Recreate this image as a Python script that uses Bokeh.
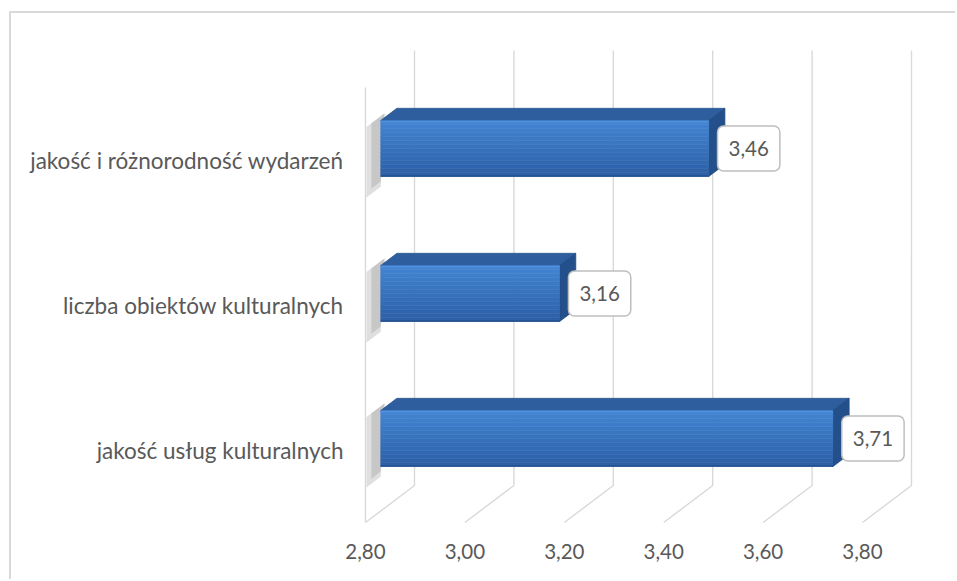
from bokeh.plotting import figure
from bokeh.models import Range1d, FixedTicker, ColumnDataSource
from bokeh.embed import file_html
from bokeh.resources import INLINE
from bokeh.core.properties import value

# ---------------- data ----------------
categories = ["jakość usług kulturalnych",
              "liczba obiektów kulturalnych",
              "jakość i różnorodność wydarzeń"]          # bottom -> top
values = [3.71, 3.16, 3.46]
value_labels = ["3,71", "3,16", "3,46"]
x_ticks = [2.8, 3.0, 3.2, 3.4, 3.6, 3.8]
x_tick_labels = ["2,80", "3,00", "3,20", "3,40", "3,60", "3,80"]
x_min = 2.8

# ---------------- layout / style constants ----------------
FONT = "Lato"
GRID = "#d9d9d9"
TEXT = "#595959"
W, H = 946, 568
OX, OY = 11, 13                 # page offset of canvas (margin + border)
FRAME_L, FRAME_T, FRAME_B = 355, 20, 530   # page px
PXX, PXY = 497.0, 145.0         # px per data unit
FLOOR_PAGE = 522                # page y of front floor edge (y = 0)
DX, DY = 49 / PXX, 37 / PXY     # depth shift (full depth) in data units
D1, D2 = 0.31, 0.64             # bar depth span
HH = 28 / PXY                   # half bar height

x_start = x_min - (365 - FRAME_L) / PXX
x_end = x_start + (W + OX - FRAME_L) / PXX
y_start = -(FRAME_B - FLOOR_PAGE) / PXY
y_end = y_start + (FRAME_B - FRAME_T) / PXY

p = figure(width=W, height=H, output_backend="svg", toolbar_location=None,
           x_range=Range1d(x_start, x_end), y_range=Range1d(y_start, y_end),
           min_border_left=FRAME_L - OX, min_border_top=FRAME_T - OY,
           min_border_bottom=H - (FRAME_B - OY), min_border_right=0,
           styles={"border-left": "2px solid #d9d9d9", "border-top": "2px solid #d9d9d9",
                   "margin-left": "9px", "margin-top": "11px"})
p.outline_line_color = None
p.xgrid.visible = False
p.ygrid.visible = False
p.background_fill_color = "white"
p.border_fill_color = "white"

ncat = len(categories)
cat_pos = [i + 0.5 for i in range(ncat)]
wall_top = float(ncat)


def P(xv, yv, d):
    return xv + d * DX, yv + d * DY


# ---- walls / floor grid ----
gx, gy = [], []
for t in x_ticks:
    a = P(t, 0, 0); b = P(t, 0, 1); c = P(t, wall_top, 1)
    gx.append([a[0], b[0], c[0]]); gy.append([a[1], b[1], c[1]])
a = P(x_min, 0, 0); b = P(x_min, wall_top, 0)
gx.append([a[0], b[0]]); gy.append([a[1], b[1]])
p.multi_line(gx, gy, line_color=GRID, line_width=1.4)


def mix(c1, c2, t):
    c1 = [int(c1[i:i + 2], 16) for i in (1, 3, 5)]
    c2 = [int(c2[i:i + 2], 16) for i in (1, 3, 5)]
    return "#%02x%02x%02x" % tuple(round(a + (b - a) * t) for a, b in zip(c1, c2))


# ---- bars ----
sh_x, sh_y = [], []
top_x, top_y, side_x, side_y = [], [], [], []
fl, fr, fb, ft, fc = [], [], [], [], []
hl_x, hl_y, bl_x, bl_y = [], [], [], []
N = 14
for v, c in zip(values, cat_pos):
    lo, hi = c - HH, c + HH
    # soft shadow on left wall
    for d0, ext in [(0.02, 0.07), (0.12, 0.035)]:
        pts = [P(x_min, hi + 0.03, D1 + 0.08), P(x_min, lo - ext, D1),
               P(x_min, lo - ext, d0), P(x_min, hi + 0.03, d0)]
        sh_x.append([q[0] for q in pts]); sh_y.append([q[1] for q in pts])
    # top face
    pts = [P(x_min, hi, D1), P(v, hi, D1), P(v, hi, D2), P(x_min, hi, D2)]
    top_x.append([q[0] for q in pts]); top_y.append([q[1] for q in pts])
    # side face
    pts = [P(v, lo, D1), P(v, hi, D1), P(v, hi, D2), P(v, lo, D2)]
    side_x.append([q[0] for q in pts]); side_y.append([q[1] for q in pts])
    # front face gradient strips
    x0 = P(x_min, 0, D1)[0]; x1 = P(v, 0, D1)[0]
    b0 = P(0, lo, D1)[1]; t0 = P(0, hi, D1)[1]
    for k in range(N):
        s_top = t0 - (t0 - b0) * k / N
        s_bot = t0 - (t0 - b0) * (k + 1) / N
        fl.append(x0); fr.append(x1); ft.append(s_top); fb.append(s_bot)
        fc.append(mix("#4283d2", "#2c60a7", k / (N - 1)))
    hl_x.append([x0, x1]); hl_y.append([t0 - 0.008, t0 - 0.008])
    bl_x.append([x0, x1]); bl_y.append([b0 + 0.004, b0 + 0.004])

p.patches(sh_x, sh_y, fill_color="#808080", fill_alpha=0.25, line_color=None)
p.patches(top_x, top_y, fill_color="#2e5e9e", line_color="#2a5892", line_width=0.8)
p.patches(side_x, side_y, fill_color="#234f8a", line_color="#214a83", line_width=0.8)
p.quad(left=fl, right=fr, bottom=fb, top=ft, fill_color=fc, line_color=fc, line_width=0.5)
p.multi_line(hl_x, hl_y, line_color="#4f8fdc", line_width=1.5)
p.multi_line(bl_x, bl_y, line_color="#22508c", line_width=1.5)

# ---- data labels ----
lab = ColumnDataSource(dict(
    x=[P(v, c, D1)[0] for v, c in zip(values, cat_pos)],
    y=[P(v, c, D1)[1] for v, c in zip(values, cat_pos)],
    t=value_labels))
p.text(x="x", y="y", text="t", source=lab, x_offset=40,
       text_font=value(FONT), text_font_size="20.5px", text_color=TEXT,
       text_align="center", text_baseline="middle",
       background_fill_color="white", border_line_color="#bfbfbf",
       border_line_width=1.5, border_radius=6, padding=(11, 15))

# ---- axes ----
p.xaxis.ticker = FixedTicker(ticks=x_ticks)
p.xaxis.major_label_overrides = {t: s for t, s in zip(x_ticks, x_tick_labels)}
p.yaxis.ticker = FixedTicker(ticks=cat_pos)
p.yaxis.major_label_overrides = {c: s for c, s in zip(cat_pos, categories)}
for ax in (p.xaxis, p.yaxis):
    ax.axis_line_color = None
    ax.major_tick_line_color = None
    ax.minor_tick_line_color = None
    ax.major_tick_in = 0
    ax.major_tick_out = 0
    ax.major_label_text_font = FONT
    ax.major_label_text_color = TEXT
p.xaxis.major_label_text_font_size = "20.5px"
p.xaxis.major_label_standoff = 13
p.yaxis.major_label_text_font_size = "22.5px"
p.yaxis.major_label_standoff = 12

open("out.html", "w").write(file_html(p, INLINE))
